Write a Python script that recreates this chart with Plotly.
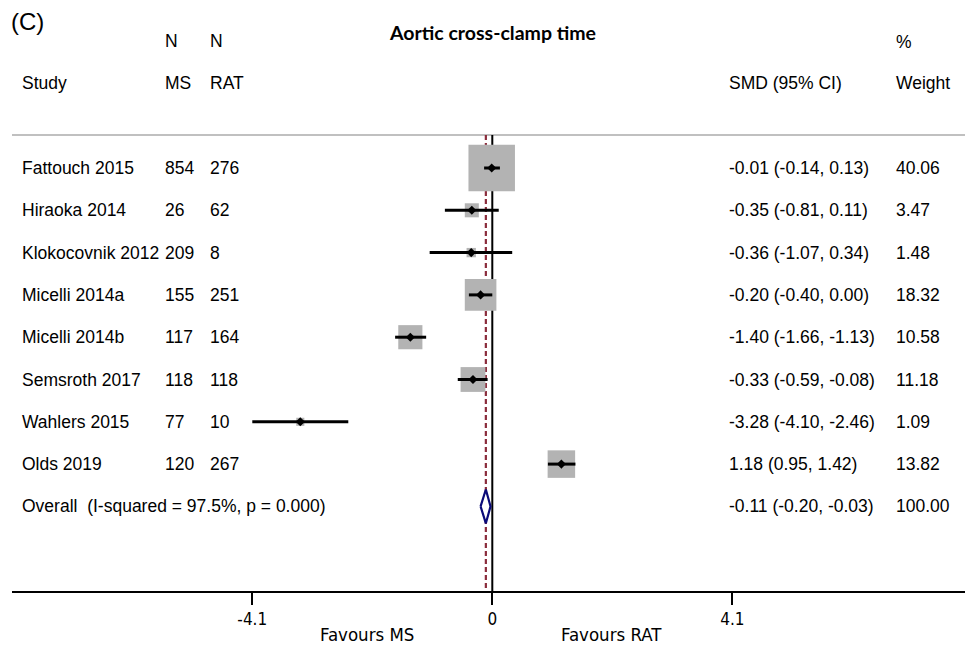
import plotly.graph_objects as go

studies = ["Fattouch 2015", "Hiraoka 2014", "Klokocovnik 2012", "Micelli 2014a",
           "Micelli 2014b", "Semsroth 2017", "Wahlers 2015", "Olds 2019"]
n_ms = [854, 26, 209, 155, 117, 118, 77, 120]
n_rat = [276, 62, 8, 251, 164, 118, 10, 267]
smd = [-0.01, -0.35, -0.36, -0.20, -1.40, -0.33, -3.28, 1.18]
ci_lo = [-0.14, -0.81, -1.07, -0.40, -1.66, -0.59, -4.10, 0.95]
ci_hi = [0.13, 0.11, 0.34, 0.00, -1.13, -0.08, -2.46, 1.42]
weights = [40.06, 3.47, 1.48, 18.32, 10.58, 11.18, 1.09, 13.82]
overall = {"label": "Overall  (I-squared = 97.5%, p = 0.000)", "est": -0.11, "lo": -0.20, "hi": -0.03, "w": 100.00}
tick_vals = [-4.1, 0, 4.1]
tick_text = ["-4.1", "0", "4.1"]

W, H = 965, 646
ML, MB = 12, 55
PW, PH = W - ML, H - MB
X0PX, SCALE = 492.3, 58.54
x_range = [(ML - X0PX) / SCALE, (W - X0PX) / SCALE]
ROW0, ROWH = 168, 42.3
y_top = -ROW0 / ROWH
y_bot = (PH - ROW0) / ROWH
rows = list(range(len(studies)))
ov_row = len(studies)

def px(xp):
    return (xp - ML) / PW

def yk(yp):
    return (yp - ROW0) / ROWH

TXT = "Liberation Sans, Arial, sans-serif"
NARROW = "DejaVu Sans Condensed, Liberation Sans Narrow, sans-serif"
FS = 17.5

fig = go.Figure()

# weight boxes
sizes = [46 * (w / weights[0]) ** 0.5 + 0.5 for w in weights]
fig.add_trace(go.Scatter(x=smd, y=rows, mode="markers",
                         marker=dict(symbol="square", size=sizes, color="#b3b3b3", opacity=1, line=dict(width=0)),
                         hoverinfo="skip", showlegend=False))
# CIs + point estimates
fig.add_trace(go.Scatter(x=smd, y=rows, mode="markers",
                         marker=dict(symbol="diamond", size=7, color="black"),
                         error_x=dict(type="data", symmetric=False,
                                      array=[h - e for h, e in zip(ci_hi, smd)],
                                      arrayminus=[e - l for e, l in zip(smd, ci_lo)],
                                      thickness=3, width=0, color="black"),
                         hoverinfo="skip", showlegend=False))
# overall diamond
dh = 0.4
fig.add_trace(go.Scatter(x=[overall["lo"], overall["est"], overall["hi"], overall["est"], overall["lo"]],
                         y=[ov_row, ov_row - dh, ov_row, ov_row + dh, ov_row],
                         mode="lines", fill="toself", fillcolor="white",
                         line=dict(color="#0a0a78", width=2.2), hoverinfo="skip", showlegend=False))

shapes = [
    dict(type="line", xref="x", yref="y", x0=0, x1=0, y0=yk(135), y1=yk(591),
         line=dict(color="black", width=2), layer="below"),
    dict(type="line", xref="x", yref="y", x0=overall["est"], x1=overall["est"], y0=yk(135), y1=yk(591),
         line=dict(color="#8b2c3c", width=2.2, dash="5px,3px"), layer="below"),
    dict(type="line", xref="paper", yref="y", x0=0, x1=1, y0=yk(135), y1=yk(135),
         line=dict(color="#c0c0c0", width=2), layer="below"),
]

ann = []
def add_text(text, xp, yp, size=FS, font=TXT, xanchor="left"):
    ann.append(dict(text=text, x=px(xp), xref="paper", y=(PH - yp) / PH, yref="paper",
                    xanchor=xanchor, yanchor="middle", showarrow=False, borderpad=0,
                    font=dict(family=font, size=size, color="black")))

def row_px(r):
    return ROW0 + ROWH * r

LX = 21
add_text("(C)", 10, 22, size=24)
add_text("<b>Aortic cross-clamp time</b>", 493, 33, size=19.5, font="Lato, Carlito, sans-serif", xanchor="center")
add_text("N", 164, 41)
add_text("N", 209, 41)
add_text("%", 895, 42)
add_text("Study", LX, 83)
add_text("MS", 164, 83)
add_text("RAT", 209, 83)
add_text("SMD (95% CI)", 728, 83)
add_text("Weight", 895, 83)

for i, s in enumerate(studies):
    yp = row_px(i)
    add_text(s, LX, yp)
    add_text(str(n_ms[i]), 164, yp)
    add_text(str(n_rat[i]), 209, yp)
    add_text(f"{smd[i]:.2f} ({ci_lo[i]:.2f}, {ci_hi[i]:.2f})", 728, yp)
    add_text(f"{weights[i]:.2f}", 895, yp)
yp = row_px(ov_row)
add_text(overall["label"], LX, yp)
add_text(f"{overall['est']:.2f} ({overall['lo']:.2f}, {overall['hi']:.2f})", 728, yp)
add_text(f"{overall['w']:.2f}", 895, yp)

add_text("Favours MS", 367, 634, size=18.5, font=NARROW, xanchor="center")
add_text("Favours RAT", 611, 634, size=18.5, font=NARROW, xanchor="center")

fig.update_layout(
    width=W, height=H, margin=dict(l=ML, r=0, t=0, b=MB),
    paper_bgcolor="white", plot_bgcolor="white",
    shapes=shapes, annotations=ann, showlegend=False,
    xaxis=dict(range=x_range, showgrid=False, zeroline=False, showline=True, linecolor="black", linewidth=2,
               ticks="outside", ticklen=12, tickwidth=2, tickcolor="black",
               tickvals=tick_vals, ticktext=tick_text,
               tickfont=dict(family=NARROW, size=17, color="black"), fixedrange=True),
    yaxis=dict(range=[y_bot, y_top], showgrid=False, zeroline=False, showline=False,
               showticklabels=False, ticks="", fixedrange=True),
)

fig.write_html("out.html")
